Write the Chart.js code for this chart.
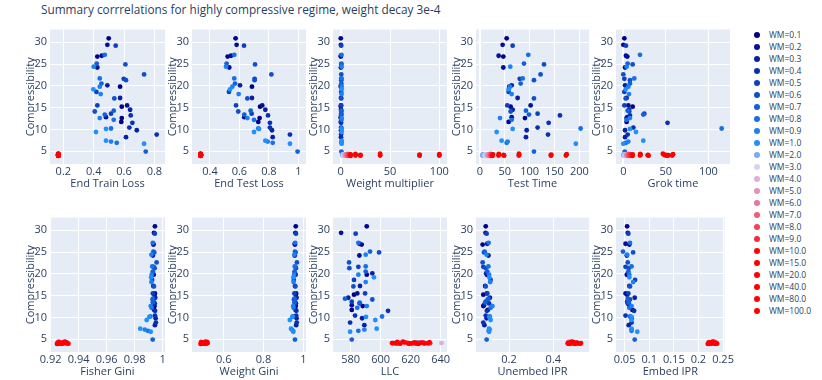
<!DOCTYPE html>
<html>
<head>
<meta charset="utf-8">
<script src="https://cdn.jsdelivr.net/npm/chart.js@4.4.1/dist/chart.umd.min.js"></script>
<style>
  html, body { margin: 0; padding: 0; background: #fff; overflow: hidden; }
  #wrap { position: relative; width: 822px; height: 380px; }
  canvas { position: absolute; }
  #title { position: absolute; left: 41px; top: 1px; font: 11.8px "Open Sans", verdana, arial, sans-serif; color: #2a3f5f; white-space: nowrap; }
  .leg { position: absolute; left: 754px; height: 12px; font: 8.5px "Open Sans", verdana, arial, sans-serif; color: #2a3f5f; white-space: nowrap; line-height: 12px; }
  .leg span { display: inline-block; width: 6px; height: 6px; border-radius: 50%; margin-right: 9px; vertical-align: -0.5px; }
</style>
</head>
<body>
<div id="wrap">
  <div id="title">Summary corrrelations for highly compressive regime, weight decay 3e-4</div>
</div>
<script>
// one entry per run: first the WM <= 1 runs, then the WM >= 2 runs
const wm = [
  0.1,0.2,0.5,0.1,0.2,0.8,0.6,0.7,0.9,0.2,
  0.6,0.8,0.5,0.6,0.7,0.9,0.3,0.1,1.0,0.5,
  0.9,0.3,0.6,0.5,0.1,0.2,0.3,0.6,0.7,0.5,
  0.7,0.2,0.4,0.1,0.9,0.8,0.1,0.4,0.4,0.3,
  1.0,0.8,1.0,0.3,0.4,1.0,0.9,0.8,1.0,0.7,
  2,2,2,3,3,3,4,4,4,5,5,5,6,6,6,7,7,7,8,8,8,9,9,9,10,10,10,
  15,15,15,20,20,20,40,40,40,80,80,80,100,100,100
];
const compressibility = [
  30.9,29.4,29.2,26.7,26.9,27.1,24.9,25.1,24.4,24.2,
  22.6,21.7,21.6,21.3,20.5,19.8,20.1,19.8,19.2,18.6,
  18.1,17.2,17.1,15.5,15.2,15.5,14.5,14.1,14.3,13.6,
  13.4,12.8,13.2,12.6,12.6,12.2,11.7,11.5,10.4,9.8,
  10.1,10.2,9.4,8.2,8.8,7.4,7.2,6.9,6.7,4.9,
  4.15,4.0,4.3, 4.05,4.25,3.95, 4.1,3.9,4.2, 4.0,4.3,4.1, 4.2,3.95,4.05, 4.1,4.35,3.9, 4.0,4.2,4.15,
  4.3,4.05,3.95, 4.1,4.25,3.9, 4.0,4.2,4.35, 4.15,3.95,4.05, 4.4,4.1,4.0, 4.1,4.2,3.95, 4.0,4.3,4.1
];
const endTrainLoss = [
  0.499,0.490,0.545,0.424,0.453,0.473,0.609,0.420,0.400,0.424,
  0.732,0.440,0.598,0.613,0.451,0.440,0.490,0.574,0.398,0.418,
  0.446,0.574,0.536,0.424,0.585,0.620,0.640,0.407,0.532,0.514,
  0.473,0.481,0.644,0.585,0.440,0.532,0.582,0.655,0.635,0.684,
  0.481,0.514,0.415,0.613,0.815,0.481,0.514,0.552,0.732,0.743,
  0.166,0.167,0.168, 0.167,0.166,0.168, 0.168,0.166,0.167, 0.167,0.168,0.166, 0.166,0.167,0.168, 0.168,0.167,0.166, 0.167,0.166,0.168,
  0.166,0.168,0.167, 0.167,0.166,0.168, 0.168,0.167,0.166, 0.166,0.168,0.167, 0.167,0.166,0.168, 0.168,0.167,0.166, 0.166,0.167,0.168
];
const endTestLoss = [
  0.574,0.581,0.631,0.520,0.543,0.565,0.706,0.513,0.509,0.531,
  0.817,0.565,0.703,0.703,0.570,0.552,0.604,0.685,0.536,0.529,
  0.595,0.685,0.654,0.577,0.740,0.755,0.776,0.592,0.676,0.683,
  0.633,0.633,0.794,0.737,0.654,0.699,0.728,0.807,0.807,0.821,
  0.733,0.728,0.699,0.826,0.943,0.776,0.792,0.826,0.943,0.995,
  0.336,0.338,0.337, 0.337,0.339,0.336, 0.338,0.336,0.337, 0.337,0.338,0.339, 0.336,0.337,0.338, 0.339,0.337,0.336, 0.338,0.336,0.337,
  0.337,0.338,0.336, 0.336,0.339,0.337, 0.338,0.337,0.336, 0.337,0.336,0.338, 0.336,0.338,0.337, 0.339,0.337,0.336, 0.337,0.336,0.338
];
const testTime = [
  53.7,45.6,65.8,47.0,37.6,97.3,128.9,88.6,61.0,47.0,
  122,86,80,108.7,81.9,60.4,63.8,59.0,57.7,57.7,
  63.8,75.8,108.7,55,61.7,102,65.8,61.7,92.6,116,
  98.7,63.8,161,90.6,40.3,63.8,57.7,138.3,116,94,
  65.8,202.7,33.6,92.6,137,43.6,55.7,53.7,193,108.7,
  5.2,4.6,5.9, 9.5,11.2,10.4, 12.8,14.1,13.3, 15.5,16.8,15.9, 17.9,18.6,19.4, 20.1,21.0,20.6, 22.0,22.8,21.5,
  23.6,24.3,23.1, 25.5,26.2,25.0, 37.2,38.4,37.8, 47.5,48.6,48.1, 78.5,79.3,78.0, 142.5,143.5,143.0, 173.0,174.5,173.8
];
const grokTime = [
  1.2,0.0,3.1,4.7,3.1,19.6,11.0,5.1,3.9,2.0,
  0.0,12.9,1.2,7.8,7.8,5.9,2.0,3.9,2.7,1.2,
  6.7,3.9,2.7,1.2,11.0,5.9,6.7,7.0,5.1,24.7,
  23.5,4.7,7.8,3.9,7.8,3.9,3.9,52,11.8,2.0,
  7.8,115.7,14.9,2.0,5.1,23.5,5.9,3.1,0.0,1.6,
  0.4,0.2,0.8, 1.5,2.2,1.8, 2.8,3.3,2.5, 3.6,4.4,3.9, 4.8,5.3,4.5, 5.7,6.3,5.9, 6.9,7.6,7.2,
  8.4,9.1,8.7, 10.4,11.1,10.8, 19.6,20.4,19.9, 29.0,29.8,28.6, 46.5,48.2,50.3, 51.5,49.0,52.5, 57.5,58.5,53.0
];
const fisherGini = [
  0.9945,0.9938,0.9944,0.9935,0.9932,0.9930,0.9940,0.9934,0.9920,0.9930,
  0.9957,0.9926,0.9935,0.9943,0.9930,0.9922,0.9930,0.9936,0.9918,0.9925,
  0.9920,0.9933,0.9938,0.9930,0.9942,0.9945,0.9947,0.9928,0.9932,0.9936,
  0.9930,0.9935,0.9944,0.9942,0.9915,0.9922,0.9940,0.9946,0.9945,0.9950,
  0.9905,0.9912,0.9886,0.9945,0.9952,0.9840,0.9872,0.9895,0.9915,0.9929,
  0.9265,0.9282,0.9301, 0.9278,0.9259,0.9310, 0.9290,0.9249,0.9315, 0.9271,0.9302,0.9256, 0.9284,0.9266,0.9321, 0.9297,0.9252,0.9276, 0.9262,0.9307,0.9288,
  0.9312,0.9279,0.9255, 0.9268,0.9294,0.9245, 0.9286,0.9303,0.9260, 0.9273,0.9318,0.9251, 0.9299,0.9264,0.9281, 0.9257,0.9290,0.9327, 0.9275,0.9306,0.9248
];
const weightGini = [
  0.962,0.960,0.963,0.958,0.957,0.959,0.961,0.958,0.955,0.957,
  0.968,0.957,0.960,0.963,0.956,0.954,0.957,0.961,0.950,0.952,
  0.951,0.958,0.960,0.955,0.962,0.964,0.966,0.953,0.956,0.958,
  0.955,0.957,0.963,0.962,0.949,0.951,0.961,0.965,0.964,0.966,
  0.945,0.947,0.932,0.964,0.967,0.938,0.942,0.948,0.950,0.958,
  0.498,0.503,0.507, 0.495,0.510,0.502, 0.500,0.488,0.515, 0.493,0.508,0.499, 0.505,0.491,0.512, 0.497,0.486,0.509, 0.502,0.514,0.494,
  0.511,0.496,0.489, 0.499,0.507,0.483, 0.504,0.492,0.516, 0.496,0.510,0.503, 0.508,0.489,0.500, 0.493,0.513,0.498, 0.501,0.486,0.519
];
const llc = [
  590.7,573.6,583.3,587.3,585.8,585.1,598.9,592.9,590.0,585.8,
  578.9,590.0,585.1,579.1,590.0,585.1,594.4,590.7,595.5,582.2,
  590.0,586.2,581.8,589.6,582.2,584.4,578.4,594.4,576.2,580.7,
  586.0,580.7,586.0,588.0,590.7,584.4,580.7,604.9,582.9,587.6,
  590.2,600.9,596.4,589.1,579.6,597.3,589.1,585.1,579.6,580.7,
  611.5,619.0,624.5, 615.5,628.0,630.5, 640.5,621.0,608.5, 626.0,613.5,632.0, 617.5,609.0,623.0, 630.0,614.5,620.5, 612.0,627.5,618.0,
  622.5,633.0,610.5, 607.5,616.0,625.0, 619.5,628.5,611.0, 624.0,613.0,631.5, 615.0,621.5,629.0, 610.0,626.5,618.5, 623.5,632.5,608.0
];
const unembedIPR = [
  0.095,0.094,0.099,0.081,0.102,0.108,0.087,0.090,0.099,0.107,
  0.081,0.107,0.084,0.095,0.102,0.110,0.097,0.100,0.111,0.117,
  0.115,0.092,0.095,0.102,0.084,0.100,0.114,0.104,0.107,0.095,
  0.092,0.087,0.110,0.084,0.125,0.117,0.104,0.100,0.095,0.099,
  0.111,0.113,0.117,0.089,0.084,0.110,0.112,0.108,0.110,0.099,
  0.474,0.482,0.469, 0.488,0.476,0.495, 0.466,0.491,0.479, 0.484,0.470,0.498, 0.472,0.500,0.481, 0.490,0.468,0.476, 0.486,0.504,0.473,
  0.479,0.495,0.512, 0.467,0.483,0.498, 0.476,0.506,0.489, 0.493,0.471,0.518, 0.482,0.510,0.465, 0.499,0.477,0.522, 0.470,0.488,0.525
];
const embedIPR = [
  0.0552,0.0565,0.0577,0.0597,0.0520,0.0610,0.0674,0.0468,0.0552,0.0545,
  0.0565,0.0642,0.0520,0.0584,0.0577,0.0597,0.0577,0.0545,0.0597,0.0713,
  0.0674,0.0597,0.0610,0.0577,0.0552,0.0520,0.0706,0.0610,0.0565,0.0552,
  0.0584,0.0597,0.0565,0.0610,0.0642,0.0597,0.0660,0.0694,0.0520,0.0642,
  0.0642,0.0610,0.0642,0.0584,0.0642,0.0642,0.0642,0.0642,0.0758,0.0706,
  0.224,0.228,0.231, 0.226,0.233,0.222, 0.229,0.224,0.236, 0.223,0.232,0.227, 0.231,0.225,0.220, 0.228,0.234,0.222, 0.226,0.230,0.236,
  0.221,0.227,0.233, 0.225,0.229,0.219, 0.232,0.224,0.228, 0.227,0.235,0.223, 0.230,0.221,0.226, 0.224,0.232,0.238, 0.222,0.229,0.234
];

const wmLevels = [0.1,0.2,0.3,0.4,0.5,0.6,0.7,0.8,0.9,1.0,2.0,3.0,4.0,5.0,6.0,7.0,8.0,9.0,10.0,15.0,20.0,40.0,80.0,100.0];
const wmLabels = ['WM=0.1','WM=0.2','WM=0.3','WM=0.4','WM=0.5','WM=0.6','WM=0.7','WM=0.8','WM=0.9','WM=1.0',
  'WM=2.0','WM=3.0','WM=4.0','WM=5.0','WM=6.0','WM=7.0','WM=8.0','WM=9.0','WM=10.0','WM=15.0','WM=20.0','WM=40.0','WM=80.0','WM=100.0'];
const wmColors = ['#00008b','#031098','#0720a5','#0a30b2','#0d40be','#1150cb','#1460d8','#1770e5','#1b80f2','#1e90ff',
  '#7aaaf8','#d6d3f7','#dbaedb','#e391b6','#e87895','#ee5d76','#f34456','#f82a39','#ff0000','#ff0000','#ff0000','#ff0000','#ff0000','#ff0000'];

const yTicks = [5, 10, 15, 20, 25, 30];
const panels = [
  { x: endTrainLoss, title: 'End Train Loss', min: 0.112, max: 0.870, ticks: [0.2, 0.4, 0.6, 0.8] },
  { x: endTestLoss, title: 'End Test Loss', min: 0.278, max: 1.052, ticks: [0.4, 0.6, 0.8, 1] },
  { x: wm, title: 'Weight multiplier', min: -7.8, max: 107.8, ticks: [0, 50, 100] },
  { x: testTime, title: 'Test Time', min: -8, max: 219.5, ticks: [0, 50, 100, 150, 200] },
  { x: grokTime, title: 'Grok time', min: -8.6, max: 125.5, ticks: [0, 50, 100] },
  { x: fisherGini, title: 'Fisher Gini', min: 0.9195, max: 1.0017, ticks: [0.92, 0.94, 0.96, 0.98, 1] },
  { x: weightGini, title: 'Weight Gini', min: 0.44, max: 1.0135, ticks: [0.6, 0.8, 1] },
  { x: llc, title: 'LLC', min: 568.2, max: 644.2, ticks: [580, 600, 620, 640] },
  { x: unembedIPR, title: 'Unembed IPR', min: 0.051, max: 0.561, ticks: [0.2, 0.4] },
  { x: embedIPR, title: 'Embed IPR', min: 0.0326, max: 0.2533, ticks: [0.05, 0.1, 0.15, 0.2, 0.25] }
];

// plot area boxes (left, right) per column and (top, bottom) per row
const cols = [[50, 165], [192, 306], [333, 447], [476, 589], [616, 730]];
const rows = [[25, 164], [213, 352]];
const Y_AXIS_W = 31, X_AXIS_H = 30, PAD_T = 5, PAD_R = 5;

Chart.defaults.font.family = '"Open Sans", verdana, arial, sans-serif';
Chart.defaults.font.size = 11;
Chart.defaults.color = '#2a3f5f';

const plotBg = {
  id: 'plotBg',
  beforeDraw(chart) {
    const a = chart.chartArea;
    chart.ctx.save();
    chart.ctx.fillStyle = '#e5ecf6';
    chart.ctx.fillRect(a.left, a.top, a.right - a.left, a.bottom - a.top);
    chart.ctx.restore();
  }
};

const wrap = document.getElementById('wrap');

panels.forEach((p, n) => {
  const [L, R] = cols[n % 5];
  const [T, B] = rows[Math.floor(n / 5)];
  const canvas = document.createElement('canvas');
  const w = R - L + Y_AXIS_W + PAD_R, h = B - T + PAD_T + X_AXIS_H;
  canvas.width = w; canvas.height = h;
  canvas.style.left = (L - Y_AXIS_W) + 'px';
  canvas.style.top = (T - PAD_T) + 'px';
  canvas.style.width = w + 'px'; canvas.style.height = h + 'px';
  wrap.appendChild(canvas);

  const datasets = wmLevels.map((lvl, k) => {
    const pts = [];
    wm.forEach((v, i) => { if (v === lvl) pts.push({ x: p.x[i], y: compressibility[i] }); });
    return {
      label: wmLabels[k],
      data: pts,
      backgroundColor: wmColors[k],
      borderWidth: 0,
      pointRadius: 2.4,
      order: wmLevels.length - k
    };
  });

  new Chart(canvas, {
    type: 'scatter',
    data: { datasets },
    plugins: [plotBg],
    options: {
      responsive: false,
      animation: false,
      devicePixelRatio: 1,
      layout: { padding: { top: PAD_T, right: PAD_R, left: 0, bottom: 0 } },
      plugins: { legend: { display: false }, tooltip: { enabled: false } },
      scales: {
        x: {
          type: 'linear', min: p.min, max: p.max,
          afterFit: s => { s.height = X_AXIS_H; },
          afterBuildTicks: s => { s.ticks = p.ticks.map(v => ({ value: v })); },
          ticks: { padding: 1, maxRotation: 0, callback: v => String(v) },
          grid: { color: '#ffffff', lineWidth: c => (c.tick && c.tick.value === 0 ? 2 : 1), drawTicks: false },
          border: { display: false },
          title: { display: true, text: p.title, padding: { top: 0, bottom: 4 } }
        },
        y: {
          type: 'linear', min: 2.05, max: 32.9,
          afterFit: s => { s.width = Y_AXIS_W; },
          afterBuildTicks: s => { s.ticks = yTicks.map(v => ({ value: v })); },
          ticks: { padding: 3, callback: v => String(v) },
          grid: { color: '#ffffff', lineWidth: 1, drawTicks: false },
          border: { display: false },
          title: { display: true, text: 'Compressibility', padding: { top: 5, bottom: 0 } }
        }
      }
    }
  });
});

// shared legend
wmLabels.forEach((lab, k) => {
  const d = document.createElement('div');
  d.className = 'leg';
  d.style.top = (28.7 + k * 12.0) + 'px';
  d.innerHTML = '<span style="background:' + wmColors[k] + '"></span>' + lab;
  wrap.appendChild(d);
});
</script>
</body>
</html>
